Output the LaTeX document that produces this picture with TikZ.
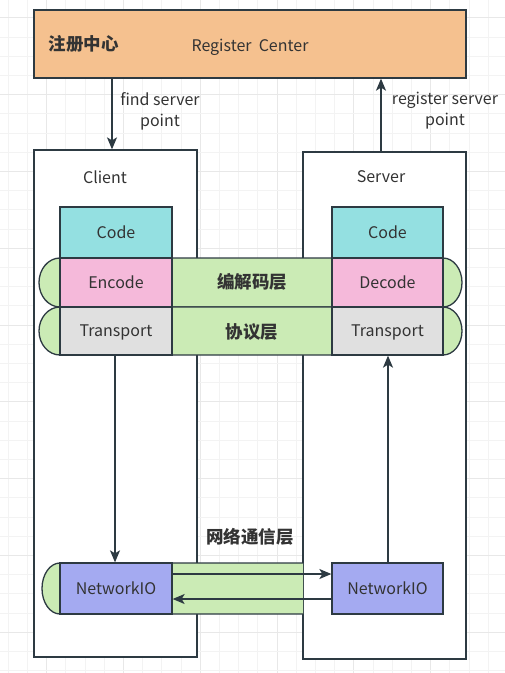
\documentclass[tikz,border=0pt]{standalone}
\usepackage{fontspec}
\setmainfont{Noto Sans CJK SC}
\usetikzlibrary{arrows.meta}

\definecolor{edge}{HTML}{2D3A42}
\definecolor{txt}{HTML}{333333}
\definecolor{regfill}{HTML}{F5C18F}
\definecolor{codefill}{HTML}{94E0E1}
\definecolor{encfill}{HTML}{F5B9DA}
\definecolor{transfill}{HTML}{E0E0E0}
\definecolor{bandfill}{HTML}{CBEBB5}
\definecolor{netfill}{HTML}{A4AAF1}
\definecolor{gridminor}{HTML}{F3F3F3}
\definecolor{gridmajor}{HTML}{E8E8E8}

\begin{document}
\begin{tikzpicture}[x=1pt,y=-1pt,
  every node/.style={font=\fontsize{16}{21}\selectfont,text=txt},
  box/.style={draw=edge,line width=1.3pt,inner sep=0pt,minimum width=112pt,text depth=0pt},
  band/.style={draw=edge,line width=1.3pt,fill=bandfill},
  layername/.style={font=\fontsize{17.5}{21}\selectfont\bfseries},
  arr/.style={draw=edge,line width=1.3pt,-{Stealth[length=12pt,width=10pt,inset=3pt]}}]
 \useasboundingbox (0,0) rectangle (505,673);

 % background grid
 \foreach \i in {0,...,25}{
  \pgfmathtruncatemacro\m{mod(\i,4)}
  \ifnum\m=2 \def\gc{gridmajor}\else\def\gc{gridminor}\fi
  \draw[\gc,line width=1pt] (8.3+19.2*\i,0) -- (8.3+19.2*\i,673);
 }
 \foreach \j in {0,...,34}{
  \pgfmathtruncatemacro\m{mod(\j,4)}
  \ifnum\m=0 \def\gc{gridmajor}\else\def\gc{gridminor}\fi
  \draw[\gc,line width=1pt] (0,17.9+19.2*\j) -- (505,17.9+19.2*\j);
 }

 % register center
 \node[box,fill=regfill,minimum width=432pt,minimum height=68pt] (reg) at (250,44) {};
 \node[text depth=0pt] (regtitle) at (250,45) {Register~~Center};
 \node[anchor=west,layername] (regcn) at (45,44) {注册中心};

 % client and server
 \node[box,fill=white,minimum width=163pt,minimum height=507pt] (cli) at (115.5,403.5) {};
 \node[box,fill=white,minimum width=163pt,minimum height=507pt] (srv) at (384.5,405.5) {};
 \node (clitxt) at (105,177) {Client};
 \node (srvtxt) at (381,177) {Server};

 % layer bands (y axis points down, so arcs run the other way)
 \draw[band] (60,258) -- (443,258) arc[start angle=-90,end angle=90,x radius=19,y radius=24.5]
  -- (60,307) arc[start angle=90,end angle=270,x radius=21,y radius=24.5] -- cycle;
 \draw[band] (60,307) -- (443,307) arc[start angle=-90,end angle=90,x radius=19,y radius=24]
  -- (60,355) arc[start angle=90,end angle=270,x radius=21,y radius=24] -- cycle;
 \fill[bandfill] (303,563) -- (60,563) arc[start angle=270,end angle=90,x radius=18,y radius=25.5]
  -- (303,614) -- cycle;
 \draw[edge,line width=1.3pt] (303,563) -- (60,563) arc[start angle=270,end angle=90,x radius=18,y radius=25.5]
  -- (303,614);
 \node[layername] (codecl) at (252,282) {编解码层};
 \node[layername] (protol) at (252,332) {协议层};
 \node[layername] (netl) at (250,537) {网络通信层};

 % client stack
 \node[box,fill=codefill,minimum height=51pt] (ccode) at (116,232.5) {Code};
 \node[box,fill=encfill,minimum height=49pt] (cenc) at (116,282.5) {Encode};
 \node[box,fill=transfill,minimum height=48pt] (ctrans) at (116,331) {Transport};
 \node[box,fill=netfill,minimum height=51pt] (cnet) at (116,588.5) {NetworkIO};

 % server stack
 \node[box,fill=codefill,minimum width=111pt,minimum height=51pt] (scode) at (387.5,232.5) {Code};
 \node[box,fill=encfill,minimum width=111pt,minimum height=49pt] (sdec) at (387.5,282.5) {Decode};
 \node[box,fill=transfill,minimum width=111pt,minimum height=48pt] (strans) at (387.5,331) {Transport};
 \node[box,fill=netfill,minimum width=111pt,minimum height=51pt] (snet) at (387.5,588.5) {NetworkIO};

 % arrows
 \coordinate (findx) at (112,0);
 \coordinate (regx) at (381,0);
 \draw[arr] (reg.south -| findx) -- (cli.north -| findx);
 \draw[arr] (srv.north -| regx) -- (reg.south -| regx);
 \node[align=center] (findtxt) at (160,111) {find server\\point};
 \node[align=center] (regtxt) at (445,111) {register server\\point};
 \draw[arr] ([xshift=-1pt]ctrans.south) -- ([xshift=-1pt]cnet.north);
 \draw[arr] ([xshift=0.5pt]snet.north) -- ([xshift=0.5pt]strans.south);
 \draw[arr] ([yshift=14.5pt]cnet.east) -- ([yshift=14.5pt]snet.west);
 \draw[arr] ([yshift=-10.5pt]snet.west) -- ([yshift=-10.5pt]cnet.east);
\end{tikzpicture}
\end{document}
